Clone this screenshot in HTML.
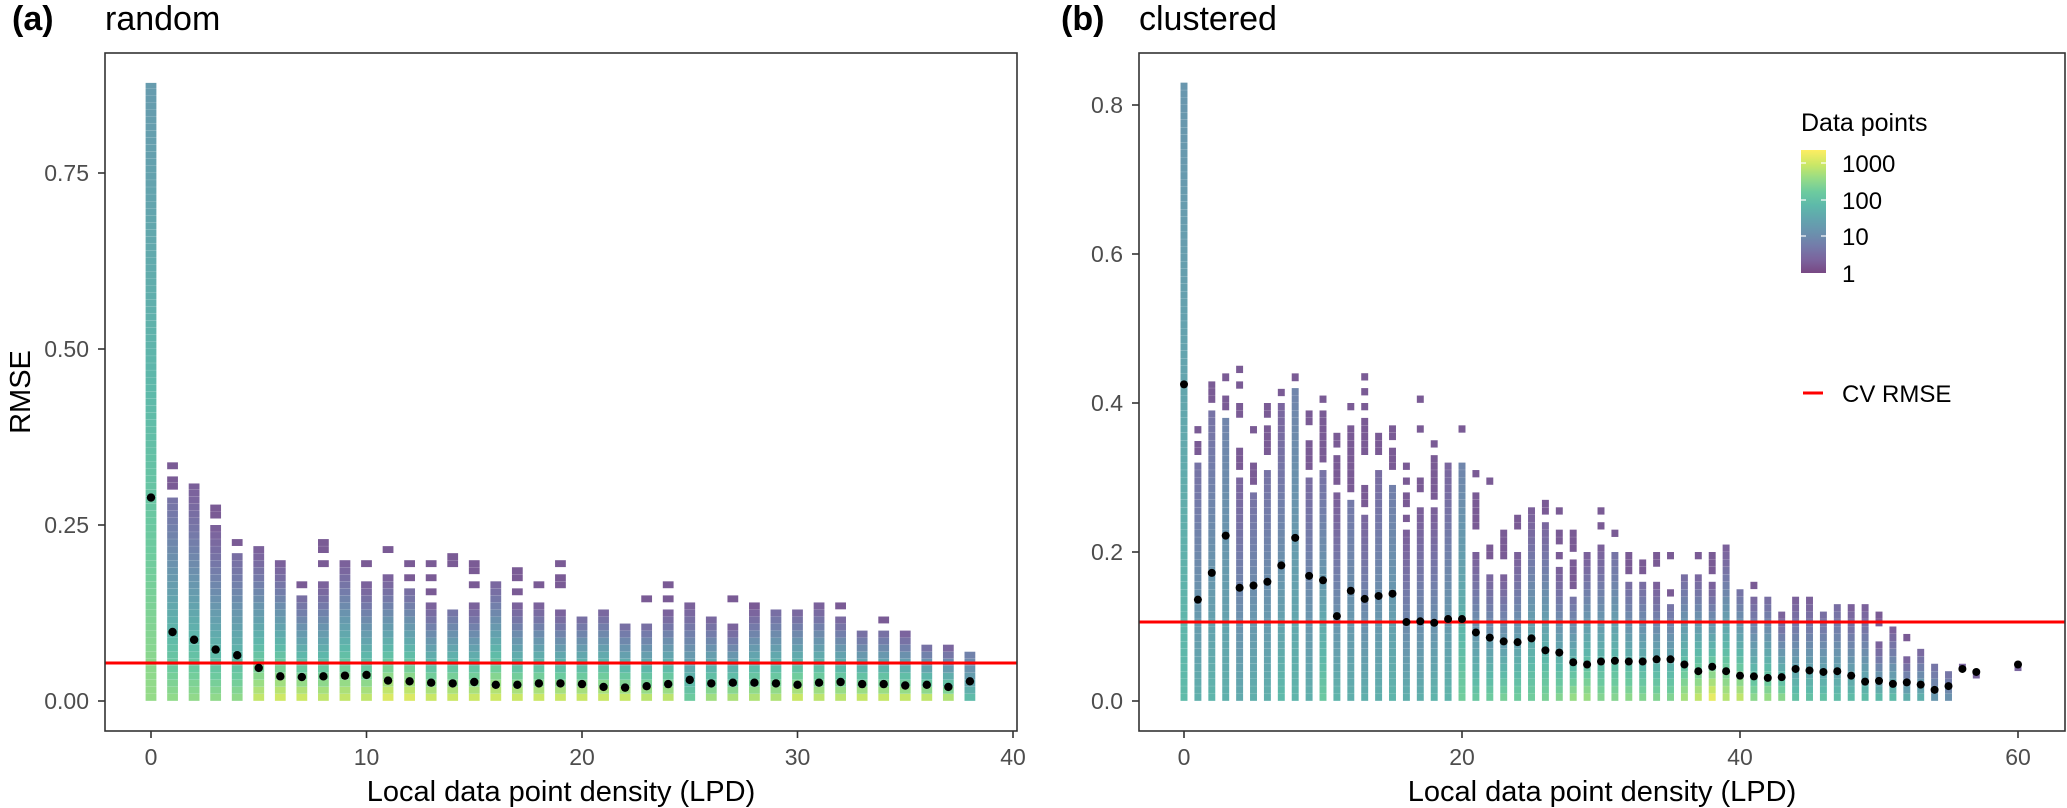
<!DOCTYPE html>
<html><head><meta charset="utf-8"><style>
html,body{margin:0;padding:0;background:#fff;}
svg{display:block;font-family:"Liberation Sans",Arial,sans-serif;}
</style></head><body>
<svg id="chart" width="2067" height="808" viewBox="0 0 2067 808" xmlns="http://www.w3.org/2000/svg">
<defs>
<linearGradient id="vir" x1="0" y1="1" x2="0" y2="0">
<stop offset="0" stop-color="#440154"/><stop offset="0.11" stop-color="#482878"/><stop offset="0.22" stop-color="#3e4989"/><stop offset="0.33" stop-color="#31688e"/><stop offset="0.44" stop-color="#26828e"/><stop offset="0.55" stop-color="#1f9e89"/><stop offset="0.66" stop-color="#35b779"/><stop offset="0.77" stop-color="#6ece58"/><stop offset="0.88" stop-color="#b5de2b"/><stop offset="1" stop-color="#fde725"/>
</linearGradient>
</defs>
<text x="12" y="30" font-size="34" font-weight="bold">(a)</text>
<text x="105" y="30" font-size="34">random</text>
<text x="1061" y="30" font-size="34" font-weight="bold">(b)</text>
<text x="1139" y="30" font-size="34">clustered</text>
<text transform="translate(30,392) rotate(-90)" text-anchor="middle" font-size="29">RMSE</text>
<text x="561" y="801" text-anchor="middle" font-size="29">Local data point density (LPD)</text>
<text x="1602" y="801" text-anchor="middle" font-size="29">Local data point density (LPD)</text>
<g>
<text x="1801" y="131" font-size="25">Data points</text>
<rect x="1801" y="150" width="25" height="123" fill="url(#vir)" fill-opacity="0.72"/>
<g stroke="#fff" stroke-width="1.2">
<line x1="1801" x2="1806" y1="163" y2="163"/><line x1="1821" x2="1826" y1="163" y2="163"/>
<line x1="1801" x2="1806" y1="200" y2="200"/><line x1="1821" x2="1826" y1="200" y2="200"/>
<line x1="1801" x2="1806" y1="236" y2="236"/><line x1="1821" x2="1826" y1="236" y2="236"/>
</g>
<text x="1842" y="172" font-size="24">1000</text>
<text x="1842" y="209" font-size="24">100</text>
<text x="1842" y="245" font-size="24">10</text>
<text x="1842" y="282" font-size="24">1</text>
<line x1="1803" x2="1823" y1="393" y2="393" stroke="#ff0000" stroke-width="3"/>
<text x="1842" y="402" font-size="24">CV RMSE</text>
</g>
</svg>
<script>
// Panel (a) random
const aLpd = [0,1,2,3,4,5,6,7,8,9,10,11,12,13,14,15,16,17,18,19,20,21,22,23,24,25,26,27,28,29,30,31,32,33,34,35,36,37,38];
const aTop = [0.878,0.289,0.309,0.25,0.21,0.22,0.20,0.15,0.17,0.20,0.17,0.18,0.16,0.14,0.13,0.14,0.17,0.14,0.14,0.13,0.12,0.13,0.11,0.11,0.13,0.14,0.12,0.11,0.14,0.13,0.13,0.14,0.12,0.10,0.10,0.10,0.08,0.08,0.07];
const aMean = [0.289,0.098,0.087,0.073,0.065,0.047,0.035,0.034,0.035,0.036,0.037,0.029,0.028,0.026,0.025,0.027,0.023,0.023,0.025,0.025,0.024,0.020,0.019,0.021,0.024,0.030,0.025,0.026,0.026,0.025,0.023,0.026,0.027,0.024,0.024,0.022,0.023,0.020,0.028];
const aBase = [2.6,2.6,2.6,2.6,2.6,3.0,3.1,3.1,3.0,3.0,3.0,3.2,3.2,3.1,3.1,3.1,3.1,3.1,3.1,3.1,3.1,3.1,3.1,3.0,3.0,2.3,2.8,2.9,2.9,2.9,3.1,3.0,3.0,3.1,3.1,3.1,3.1,3.0,2.0];
const aTopLvl = [1.3,0.6,0.3,0.3,0.5,0.3,0.3,0.5,0.3,0.3,0.3,0.3,0.5,0.3,0.6,0.3,0.4,0.3,0.3,0.3,0.5,0.4,0.5,0.5,0.3,0.3,0.4,0.3,0.2,0.5,0.4,0.3,0.4,0.5,0.5,0.3,0.5,0.3,0.8];
const aExtraCol = [1,1,3,4,7,8,8,10,11,12,12,13,13,13,14,15,15,17,17,18,19,19,23,24,24,27,32,34];
const aExtraLo  = [0.30,0.329,0.259,0.22,0.16,0.21,0.19,0.19,0.21,0.19,0.17,0.19,0.17,0.15,0.19,0.18,0.16,0.17,0.15,0.16,0.19,0.16,0.14,0.16,0.14,0.14,0.13,0.11];
const aExtraHi  = [0.319,0.339,0.279,0.23,0.17,0.23,0.20,0.20,0.22,0.20,0.18,0.20,0.18,0.16,0.21,0.20,0.17,0.19,0.16,0.17,0.20,0.18,0.15,0.17,0.15,0.15,0.14,0.12];
const aCv = 0.054;
const aXTicks = [0,10,20,30,40];
const aYTicks = [0,0.25,0.5,0.75];
const aYLabels = ["0.00","0.25","0.50","0.75"];

// Panel (b) clustered
const bLpd = [0,1,2,3,4,5,6,7,8,9,10,11,12,13,14,15,16,17,18,19,20,21,22,23,24,25,26,27,28,29,30,31,32,33,34,35,36,37,38,39,40,41,42,43,44,45,46,47,48,49,50,51,52,53,54,55,56,57,60];
const bTop = [0.83,0.32,0.39,0.38,0.30,0.28,0.31,0.40,0.42,0.30,0.31,0.28,0.27,0.25,0.31,0.29,0.23,0.26,0.26,0.32,0.32,0.20,0.17,0.17,0.20,0.26,0.24,0.18,0.14,0.20,0.21,0.20,0.16,0.16,0.16,0.13,0.17,0.17,0.16,0.21,0.15,0.14,0.14,0.12,0.14,0.14,0.12,0.13,0.13,0.13,0.08,0.10,0.06,0.07,0.05,0.04,0,0,0];
const bMean = [0.425,0.136,0.172,0.222,0.152,0.155,0.160,0.182,0.219,0.168,0.162,0.114,0.148,0.137,0.141,0.144,0.106,0.107,0.105,0.110,0.110,0.092,0.085,0.080,0.079,0.084,0.068,0.065,0.052,0.049,0.053,0.054,0.053,0.053,0.056,0.056,0.049,0.040,0.046,0.040,0.034,0.033,0.031,0.032,0.043,0.041,0.039,0.040,0.034,0.026,0.027,0.023,0.025,0.022,0.015,0.020,0.043,0.039,0.049];
const bBase = [1.9,1.7,1.8,1.7,1.6,1.7,1.7,1.9,1.8,1.7,2.2,1.8,1.7,1.7,1.7,1.8,1.7,1.7,1.8,1.8,2.3,2.2,2.3,2.4,2.3,2.3,2.4,2.5,2.7,2.7,2.5,2.5,2.6,2.5,2.5,2.5,2.8,3.0,3.3,2.9,3.0,2.6,2.7,2.6,2.1,2.1,2.1,2.0,2.0,2.0,2.0,2.0,1.8,1.8,1.3,1.2,0.4,0.4,0.4];
const bTopLvl = [1.2,0.6,0.6,0.9,0.4,0.6,0.6,0.4,0.9,0.5,0.6,0.3,0.7,0.4,0.5,0.8,0.3,0.3,0.3,0.4,0.9,0.3,0.4,0.3,0.3,0.3,0.4,0.3,0.6,0.3,0.3,0.6,0.5,0.5,0.3,0.6,0.5,0.4,0.3,0.3,0.6,0.4,0.5,0.3,0.3,0.3,0.5,0.5,0.3,0.3,0.3,0.3,0.3,0.4,0.6,0.6,0.4,0.4,0.4];
const bExtraCol = [1,1,2,3,3,4,4,4,4,5,5,6,6,7,8,9,9,10,10,11,11,12,12,13,13,13,13,13,14,15,15,16,16,16,16,17,17,17,18,18,20,21,21,22,22,23,24,26,27,27,27,28,28,30,30,31,32,33,34,35,35,37,38,41,50,52,56,57,60];
const bExtraLo  = [0.359,0.33,0.40,0.429,0.39,0.44,0.419,0.38,0.31,0.359,0.29,0.38,0.33,0.409,0.429,0.37,0.31,0.40,0.32,0.34,0.29,0.39,0.28,0.43,0.41,0.39,0.33,0.26,0.33,0.35,0.31,0.31,0.29,0.26,0.24,0.40,0.36,0.28,0.34,0.27,0.36,0.30,0.23,0.29,0.19,0.19,0.23,0.25,0.25,0.21,0.19,0.20,0.15,0.25,0.23,0.22,0.17,0.17,0.18,0.19,0.14,0.19,0.17,0.15,0.10,0.08,0.04,0.03,0.04];
const bExtraHi  = [0.369,0.349,0.429,0.44,0.41,0.45,0.429,0.40,0.34,0.369,0.32,0.40,0.37,0.419,0.44,0.39,0.35,0.41,0.39,0.36,0.33,0.40,0.37,0.44,0.42,0.40,0.38,0.29,0.36,0.37,0.34,0.32,0.30,0.28,0.25,0.41,0.37,0.30,0.35,0.33,0.37,0.31,0.28,0.30,0.21,0.23,0.25,0.27,0.26,0.23,0.20,0.23,0.19,0.26,0.24,0.23,0.20,0.19,0.20,0.20,0.15,0.20,0.20,0.16,0.12,0.09,0.05,0.04,0.05];
const bCv = 0.106;
const bXTicks = [0,20,40,60];
const bYTicks = [0,0.2,0.4,0.6,0.8];
const bYLabels = ["0.0","0.2","0.4","0.6","0.8"];

const NS = 'http://www.w3.org/2000/svg';
const svg = document.getElementById('chart');
const VIR = ['#440154','#482878','#3e4989','#31688e','#26828e','#1f9e89','#35b779','#6ece58','#b5de2b','#fde725'];
function hex(h){return [parseInt(h.substr(1,2),16),parseInt(h.substr(3,2),16),parseInt(h.substr(5,2),16)];}
function viridis(lvl){
  let t = Math.max(0, Math.min(1, lvl/3.35));
  let p = t*(VIR.length-1), i = Math.min(VIR.length-2, Math.floor(p)), f = p-i;
  let c0 = hex(VIR[i]), c1 = hex(VIR[i+1]);
  let c = c0.map((v,k)=>v+(c1[k]-v)*f);
  return 'rgb('+c.map(v=>Math.round(v*0.72+255*0.28)).join(',')+')';
}
function mk(tag, attrs, parent){
  const e = document.createElementNS(NS, tag);
  for (const k in attrs) e.setAttribute(k, attrs[k]);
  (parent||svg).appendChild(e);
  return e;
}
function drawPanel(P, lpd, top, mean, base, topLvl, exCol, exLo, exHi, cv, xt, yt, yl, id){
  const X = v => P.x0 + v*P.xs;
  const Y = v => P.y0 - v*P.ys;
  const g = mk('g', {});
  
  
  const bw = 0.5*P.xs;
  function tile(x, lo, hi, lvl){
    const r = mk('rect', {x: (X(x)-bw/2).toFixed(2), y: Y(hi).toFixed(2), width: bw.toFixed(2), height: Math.max(0.5, Y(lo)-Y(hi)-0.15).toFixed(2), fill: viridis(lvl)}, g);
    
    
  }
  for (let i=0;i<lpd.length;i++){
    const t = top[i];
    for (let k=0; k*0.01 < t - 1e-6; k++){
      const lo = k*0.01, hi = Math.min((k+1)*0.01, t);
      const mid = (lo+hi)/2;
      const tl = topLvl[i];
      const lvl = tl + (base[i]-tl)*Math.pow(Math.max(0,1-mid/t),1.2);
      tile(lpd[i], lo, hi, lvl);
    }
  }
  for (let j=0;j<exCol.length;j++){
    const idx = lpd.indexOf(exCol[j]);
    const x = exCol[j];
    for (let lo=exLo[j]; lo < exHi[j]-1e-6; lo+=0.01){
      tile(x, lo, Math.min(lo+0.01, exHi[j]), idx>=0 && top[idx]===0 ? 0.4 : 0.25);
    }
  }
  const cl = mk('line', {x1:P.left, x2:P.right, y1:Y(cv), y2:Y(cv), stroke:'#ff0000', 'stroke-width':3}, g);
  
  
  for (let i=0;i<lpd.length;i++){
    const c = mk('circle', {cx:X(lpd[i]), cy:Y(mean[i]), r:P.r, fill:'#000'}, g);
    
    
  }
  const fr = mk('rect', {x:P.left, y:P.top, width:P.right-P.left, height:P.bottom-P.top, fill:'none', stroke:'#333', 'stroke-width':1.6});
  
  
  xt.forEach(v=>{
    const l = mk('line', {x1:X(v), x2:X(v), y1:P.bottom, y2:P.bottom+7, stroke:'#333', 'stroke-width':1.6});
    
    
    const tx = mk('text', {x:X(v), y:765, 'text-anchor':'middle', 'font-size':23, fill:'#4d4d4d'});
    tx.textContent = v;
    
    
  });
  yt.forEach((v,i)=>{
    const l = mk('line', {x1:P.left-7, x2:P.left, y1:Y(v), y2:Y(v), stroke:'#333', 'stroke-width':1.6});
    
    
    const tx = mk('text', {x:P.left-16, y:Y(v)+8, 'text-anchor':'end', 'font-size':23, fill:'#4d4d4d'});
    tx.textContent = yl[i];
    
    
  });
}
drawPanel({x0:151, xs:21.55, y0:701, ys:704, left:105, right:1017, top:53, bottom:731, r:4.2},
  aLpd, aTop, aMean, aBase, aTopLvl, aExtraCol, aExtraLo, aExtraHi, aCv, aXTicks, aYTicks, aYLabels, 'a');
drawPanel({x0:1184, xs:13.9, y0:701, ys:745, left:1139, right:2065, top:53, bottom:731, r:4},
  bLpd, bTop, bMean, bBase, bTopLvl, bExtraCol, bExtraLo, bExtraHi, bCv, bXTicks, bYTicks, bYLabels, 'b');
</script>
</body></html>
